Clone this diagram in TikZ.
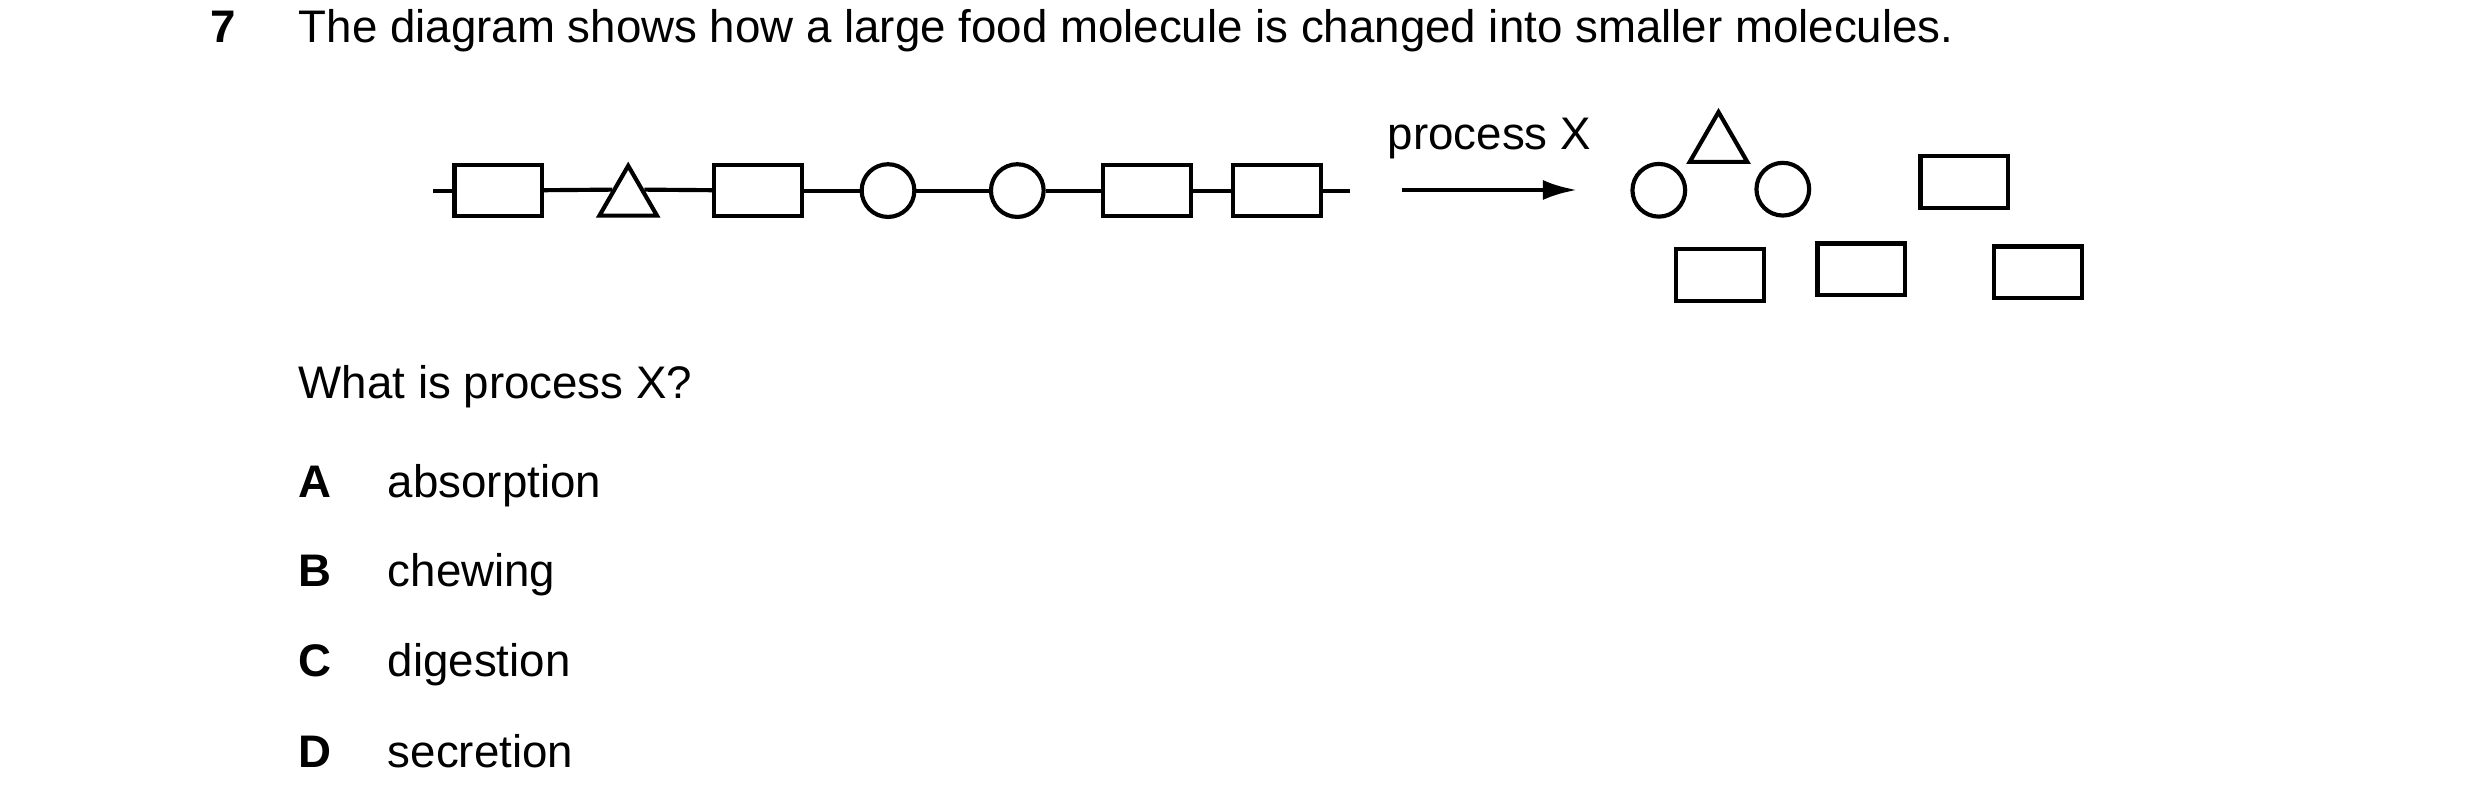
\documentclass[tikz,border=0pt]{standalone}
\usepackage{fontspec}
\setmainfont{Liberation Sans}
\usepackage{tikz}
\usetikzlibrary{positioning}
\usetikzlibrary{shapes.geometric}
\usetikzlibrary{arrows.meta}

\tikzset{
	unit/.style={draw, line width=1pt, minimum width=21.1pt, minimum height=12.4pt, inner sep=0pt},
	ring/.style={draw, circle, line width=1pt, minimum size=12.7pt, inner sep=0pt},
	tri/.style={draw, regular polygon, regular polygon sides=3, line width=1pt, minimum size=16pt, inner sep=0pt},
	txt/.style={inner sep=0pt, anchor=base west, font=\fontsize{11}{13}\selectfont}
}

\begin{document}
\begin{tikzpicture}[x=0.0846667mm, y=-0.0846667mm]
			\useasboundingbox (0,0) rectangle (2480,809);

			\node[txt, font=\fontsize{11}{13}\selectfont\bfseries] (num) at (210,42.3) {7};
			\node[txt] (title) at (298,42.3) {The diagram shows how a large food molecule is changed into smaller molecules.};

			% the large molecule
			\coordinate (s) at (433,190.6);
			\node[unit] (1) at (498.3,190.6) {};
			\node[tri] (2) at (628.2,199) {};
			\node[unit] (3) at (758,190.6) {};
			\node[ring] (4) at (888,190.6) {};
			\node[ring] (5) at (1017.3,190.6) {};
			\node[unit] (6) at (1147,190.6) {};
			\node[unit] (7) at (1277,190.6) {};
			\coordinate (e) at (1350,190.6);

			\path[draw, line width=1pt] (s) -- (1);
			\path[draw, line width=1pt] (1) -- (2.side 1);
			\path[draw, line width=1pt] (2.side 3) -- (3);
			\path[draw, line width=1pt] (3) -- (4);
			\path[draw, line width=1pt] (4) -- (5);
			\path[draw, line width=1pt] (5) -- (6);
			\path[draw, line width=1pt] (6) -- (7);
			\path[draw, line width=1pt] (7) -- (e);

			% process X
			\node[txt] (label) at (1387,149.3) {process X};
			\coordinate (a) at (1401.7,190);
			\coordinate (b) at (1577,190);
			\path[draw, line width=1.1pt, -{Latex[length=8.2pt, width=4.8pt]}] (a) -- (b);

			% the smaller molecules
			\node[ring] (8) at (1658.8,190.3) {};
			\node[tri] (9) at (1718.5,145.3) {};
			\node[ring] (10) at (1782.8,189.2) {};
			\node[unit] (11) at (1964.3,182) {};
			\node[unit] (12) at (1720,275) {};
			\node[unit] (13) at (1861.3,269.3) {};
			\node[unit] (14) at (2038,272.3) {};

			% question
			\node[txt] (q) at (298,399) {What is process X?};
			\node[txt, font=\fontsize{11}{13}\selectfont\bfseries] (A) at (298,498) {A};
			\node[txt] (ansA) at (387,498) {absorption};
			\node[txt, font=\fontsize{11}{13}\selectfont\bfseries] (B) at (298,587) {B};
			\node[txt] (ansB) at (387,587) {chewing};
			\node[txt, font=\fontsize{11}{13}\selectfont\bfseries] (C) at (298,677) {C};
			\node[txt] (ansC) at (387,677) {digestion};
			\node[txt, font=\fontsize{11}{13}\selectfont\bfseries] (D) at (298,768) {D};
			\node[txt] (ansD) at (387,768) {secretion};
\end{tikzpicture}
\end{document}
